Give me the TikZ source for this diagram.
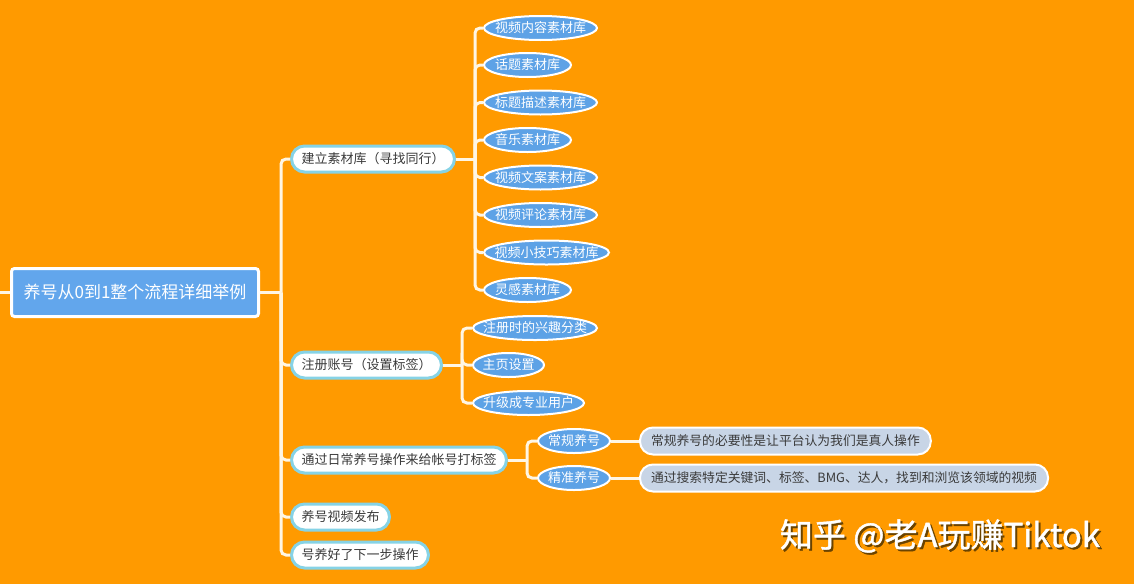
\documentclass[tikz,border=0pt]{standalone}
\usepackage{fontspec}
\setmainfont{Noto Sans CJK SC}
\newfontfamily\wmfont[FakeBold=1.2]{Noto Sans CJK SC}
\usetikzlibrary{shapes.geometric}
\definecolor{bg}{HTML}{FF9A00}
\definecolor{rootblue}{HTML}{62A6EC}
\definecolor{elblue}{HTML}{5DA2E6}
\definecolor{pillborder}{HTML}{86D3E6}
\definecolor{leaffill}{HTML}{C8D5E6}
\definecolor{linec}{HTML}{FFF6E4}
\definecolor{txt}{HTML}{3A3A3A}
\definecolor{shade}{HTML}{6A4300}
\begin{document}
\begin{tikzpicture}[x=1pt,y=-1pt,
 conn/.style={draw=linec, line width=3pt, rounded corners=5pt},
 rootbox/.style={rectangle, rounded corners=3pt, fill=rootblue, draw=white, line width=3pt, minimum width=247pt, minimum height=48pt, text=white, font=\fontsize{17}{20}\selectfont, inner sep=0pt},
 topic/.style={rectangle, rounded corners=13pt, fill=white, draw=pillborder, line width=3pt, minimum height=26pt, inner xsep=10pt, inner ysep=0pt, text=txt, font=\fontsize{13}{15}\selectfont, anchor=west},
 sub/.style={ellipse, fill=elblue, draw=white, line width=2pt, minimum height=24pt, inner sep=0pt, text=white, font=\fontsize{13}{15}\selectfont, anchor=west},
 leaf/.style={rectangle, rounded corners=13pt, fill=leaffill, draw=white, line width=2pt, minimum height=27pt, inner xsep=11pt, inner ysep=0pt, text=txt, font=\fontsize{12.8}{15}\selectfont, anchor=west},
]
\fill[bg] (0,0) rectangle (1134,584);
\useasboundingbox (0,0) rectangle (1134,584);

% root
\node[rootbox] (root) at (135,292.5) {养号从0到1整个流程详细举例};
\coordinate (lft) at (0,292.5);
\draw[conn] (lft) -- (root.west);

% level 1
\node[topic] (b1) at (290,159) {建立素材库（寻找同行）};
\node[topic] (b2) at (290,365) {注册账号（设置标签）};
\node[topic] (b3) at (290,460) {通过日常养号操作来给帐号打标签};
\node[topic] (b4) at (290,517) {养号视频发布};
\node[topic] (b5) at (290,555) {号养好了下一步操作};

\coordinate (tx) at (281,0);
\draw[conn] (root.east) -- (root.east -| tx);
\foreach \b in {b1,b2,b3,b4,b5}{
  \draw[conn] (root.east -| tx) |- (\b.west);
}

% children of b1
\node[sub, minimum width=113pt] (s1) at (483,28) {\makebox[0pt]{视频内容素材库}};
\node[sub, minimum width=87pt]  (s2) at (483,65) {\makebox[0pt]{话题素材库}};
\node[sub, minimum width=113pt] (s3) at (483,102.5) {\makebox[0pt]{标题描述素材库}};
\node[sub, minimum width=87pt]  (s4) at (483,140) {\makebox[0pt]{音乐素材库}};
\node[sub, minimum width=113pt] (s5) at (483,177.5) {\makebox[0pt]{视频文案素材库}};
\node[sub, minimum width=113pt] (s6) at (483,215) {\makebox[0pt]{视频评论素材库}};
\node[sub, minimum width=125pt] (s7) at (483,252.5) {\makebox[0pt]{视频小技巧素材库}};
\node[sub, minimum width=87pt]  (s8) at (483,290) {\makebox[0pt]{灵感素材库}};

\coordinate (j1) at (475,0);
\draw[conn] (b1.east) -- (b1.east -| j1);
\foreach \s in {s1,s2,s3,s4,s5,s6,s7,s8}{
  \draw[conn] (b1.east -| j1) |- (\s.west);
}

% children of b2
\node[sub, minimum width=124pt] (r1) at (472,328) {\makebox[0pt]{注册时的兴趣分类}};
\node[sub, minimum width=71pt]  (r2) at (472,365) {\makebox[0pt]{主页设置}};
\node[sub, minimum width=111pt] (r3) at (472,403) {\makebox[0pt]{升级成专业用户}};

\coordinate (j2) at (462,0);
\draw[conn] (b2.east) -- (b2.east -| j2);
\foreach \s in {r1,r2,r3}{
  \draw[conn] (b2.east -| j2) |- (\s.west);
}

% children of b3
\node[sub, minimum width=72pt] (c1) at (537,441) {\makebox[0pt]{常规养号}};
\node[sub, minimum width=72pt] (c2) at (537,478) {\makebox[0pt]{精准养号}};

\coordinate (j3) at (527,0);
\draw[conn] (b3.east) -- (b3.east -| j3);
\foreach \s in {c1,c2}{
  \draw[conn] (b3.east -| j3) |- (\s.west);
}

% leaves
\node[leaf] (l1) at (639,441) {常规养号的必要性是让平台认为我们是真人操作};
\node[leaf] (l2) at (639,478) {通过搜索特定关键词、标签、BMG、达人，找到和浏览该领域的视频};
\draw[conn] (c1.east) -- (l1.west);
\draw[conn] (c2.east) -- (l2.west);

% watermark
\node[text=shade, font=\wmfont\fontsize{33}{36}\selectfont] (wms) at (942,538) {知乎 @老A玩赚Tiktok};
\node[text=white, font=\wmfont\fontsize{33}{36}\selectfont] (wm) at (940,536) {知乎 @老A玩赚Tiktok};
\end{tikzpicture}
\end{document}
